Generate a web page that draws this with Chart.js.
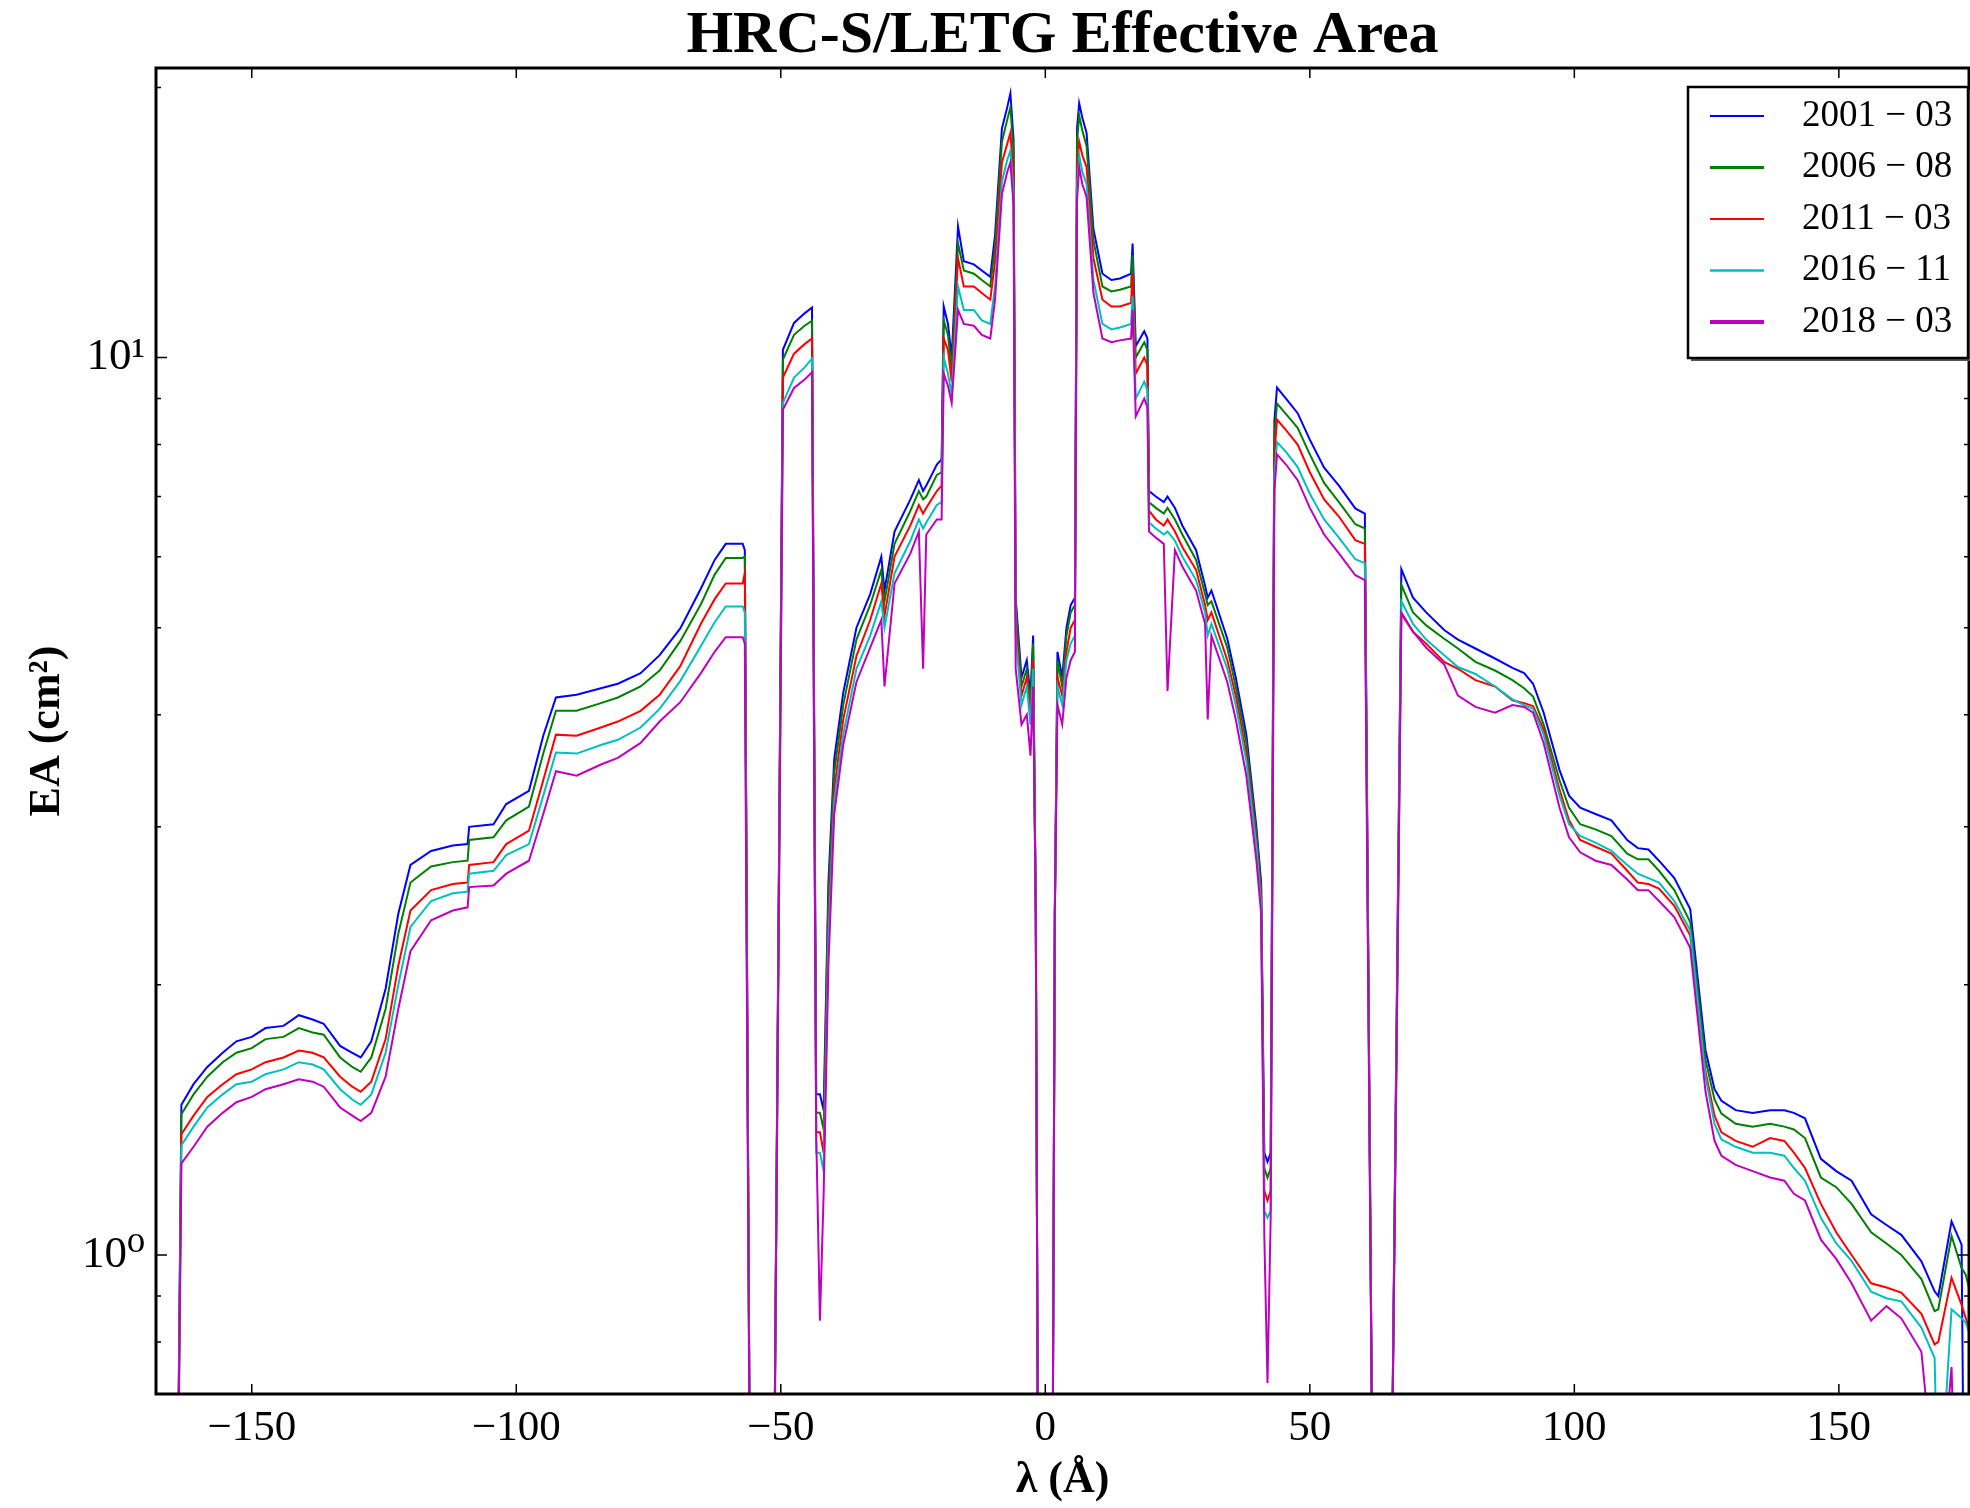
<!DOCTYPE html>
<html>
<head>
<meta charset="utf-8">
<title>HRC-S/LETG Effective Area</title>
<script src="https://cdn.jsdelivr.net/npm/chart.js@4.4.1/dist/chart.umd.min.js"></script>
<style>
  html, body { margin: 0; padding: 0; background: #fff; }
  canvas { display: block; }
</style>
</head>
<body>
<canvas id="eaChart" width="1970" height="1508"></canvas>
<script>
// wavelength grid (Angstrom), negative = minus orders
var wavelength = [
  -168.1, -164.4, -163.3, -161.0, -158.4, -155.5, -152.9, -150.0, -147.4, -144.0,
  -141.1, -138.5, -136.4, -133.3, -131.0, -129.4, -127.4, -124.7, -122.3, -120.0,
  -116.1, -112.0, -109.2, -108.9, -104.3, -101.9, -97.6, -94.9, -92.5, -88.6,
  -84.0, -80.8, -76.5, -72.9, -69.0, -65.1, -62.5, -60.4, -57.2, -56.8,
  -55.6, -51.6, -49.6, -47.5, -45.5, -44.1, -43.3, -42.6, -41.9, -41.0,
  -39.9, -38.2, -35.7, -33.1, -31.0, -30.4, -28.5, -25.5, -23.9, -23.1,
  -22.5, -20.5, -19.6, -19.2, -18.4, -17.7, -16.5, -15.4, -13.5, -12.0,
  -10.4, -9.5, -8.2, -7.2, -6.6, -6.0, -5.6, -4.5, -3.5, -2.8,
  -2.3, -1.8, -1.2, 1.2, 1.8, 2.3, 3.2, 4.0, 4.8, 5.6,
  6.0, 6.4, 7.0, 7.8, 9.1, 10.8, 12.5, 14.1, 16.2, 16.5,
  17.1, 18.7, 19.3, 19.6, 20.9, 22.4, 23.1, 24.5, 25.9, 28.5,
  30.2, 30.7, 31.4, 34.4, 36.0, 38.0, 39.9, 40.8, 41.4, 42.0,
  42.6, 43.3, 43.8, 45.5, 47.7, 50.0, 52.7, 55.5, 58.6, 60.4,
  62.2, 65.0, 67.3, 69.5, 72.0, 75.4, 78.0, 81.3, 85.0, 88.3,
  90.5, 92.2, 94.2, 97.2, 99.0, 101.1, 104.0, 107.0, 110.0, 112.0,
  114.0, 116.0, 118.9, 121.9, 124.8, 126.5, 127.8, 130.5, 133.7, 137.0,
  139.7, 141.5, 143.6, 146.6, 149.5, 152.4, 156.1, 159.0, 161.8, 165.6,
  168.1, 168.8, 171.3, 173.2, 174.0, 174.6
];

// effective area (cm^2) per epoch
var ea2001_03 = [
  0.3, 0.3, 1.47, 1.55, 1.62, 1.68, 1.73, 1.75, 1.79, 1.80,
  1.85, 1.83, 1.81, 1.71, 1.68, 1.66, 1.73, 1.98, 2.40, 2.72,
  2.82, 2.86, 2.87, 3.00, 3.02, 3.18, 3.29, 3.79, 4.18, 4.21,
  4.28, 4.33, 4.45, 4.66, 4.99, 5.53, 5.95, 6.20, 6.20, 6.10,
  0.3, 0.3, 10.20, 10.93, 11.20, 11.37, 1.51, 1.51, 1.45, 2.60,
  3.57, 4.23, 5.00, 5.45, 6.00, 5.50, 6.40, 6.95, 7.30, 7.10,
  7.20, 7.60, 7.70, 11.40, 10.90, 10.00, 14.00, 12.80, 12.70, 12.50,
  12.30, 13.70, 18.00, 19.00, 19.70, 17.50, 5.40, 4.40, 4.60, 4.20,
  4.90, 2.40, 0.3, 0.3, 2.40, 4.70, 4.40, 5.00, 5.30, 5.40,
  18.00, 19.20, 18.50, 17.80, 13.90, 12.40, 12.20, 12.25, 12.40, 13.40,
  10.30, 10.70, 10.50, 7.10, 7.00, 6.90, 7.00, 6.80, 6.50, 6.10,
  5.57, 5.40, 5.50, 4.86, 4.40, 3.80, 3.00, 2.60, 1.30, 1.27,
  1.30, 8.50, 9.26, 9.00, 8.67, 8.10, 7.54, 7.20, 6.79, 6.70,
  0.3, 0.3, 5.81, 5.40, 5.20, 4.97, 4.85, 4.74, 4.62, 4.51,
  4.45, 4.33, 4.02, 3.47, 3.25, 3.15, 3.10, 3.05, 2.90, 2.84,
  2.83, 2.75, 2.63, 2.43, 1.69, 1.53, 1.485, 1.45, 1.44, 1.45,
  1.45, 1.44, 1.42, 1.28, 1.24, 1.21, 1.11, 1.08, 1.053, 0.984,
  0.911, 0.90, 1.09, 1.027, 0.3, 0.3
];
var ea2006_08 = [
  0.3, 0.3, 1.435, 1.51, 1.58, 1.64, 1.68, 1.70, 1.74, 1.75,
  1.79, 1.77, 1.76, 1.66, 1.62, 1.60, 1.66, 1.88, 2.28, 2.60,
  2.71, 2.74, 2.75, 2.90, 2.92, 3.05, 3.16, 3.62, 4.04, 4.04,
  4.12, 4.18, 4.30, 4.48, 4.83, 5.31, 5.73, 5.98, 5.98, 6.00,
  0.3, 0.3, 9.95, 10.60, 10.85, 10.99, 1.44, 1.44, 1.38, 2.50,
  3.45, 4.10, 4.85, 5.30, 5.80, 5.35, 6.20, 6.75, 7.10, 6.95,
  7.00, 7.40, 7.45, 11.00, 10.60, 9.70, 13.40, 12.50, 12.40, 12.20,
  12.00, 13.30, 17.40, 18.40, 19.00, 17.00, 5.30, 4.30, 4.50, 4.10,
  4.80, 2.40, 0.3, 0.3, 2.40, 4.60, 4.30, 4.90, 5.20, 5.30,
  17.40, 18.60, 17.90, 17.20, 13.50, 12.00, 11.85, 11.90, 12.00, 13.00,
  10.00, 10.40, 10.20, 6.90, 6.80, 6.70, 6.80, 6.60, 6.35, 5.95,
  5.45, 5.30, 5.35, 4.75, 4.30, 3.72, 2.95, 2.55, 1.25, 1.22,
  1.25, 8.20, 8.89, 8.65, 8.35, 7.80, 7.25, 6.90, 6.52, 6.45,
  0.3, 0.3, 5.58, 5.20, 5.03, 4.86, 4.74, 4.58, 4.48, 4.37,
  4.28, 4.19, 3.90, 3.38, 3.15, 3.02, 2.98, 2.93, 2.80, 2.76,
  2.76, 2.68, 2.55, 2.35, 1.65, 1.49, 1.437, 1.40, 1.39, 1.40,
  1.39, 1.38, 1.35, 1.22, 1.19, 1.14, 1.06, 1.03, 1.00, 0.94,
  0.866, 0.87, 1.05, 0.967, 0.95, 0.92
];
var ea2011_03 = [
  0.3, 0.3, 1.363, 1.43, 1.50, 1.55, 1.59, 1.61, 1.64, 1.66,
  1.69, 1.68, 1.66, 1.58, 1.54, 1.52, 1.56, 1.74, 2.10, 2.42,
  2.55, 2.59, 2.60, 2.72, 2.74, 2.87, 2.97, 3.38, 3.80, 3.79,
  3.87, 3.93, 4.04, 4.21, 4.53, 5.05, 5.38, 5.60, 5.60, 5.75,
  0.3, 0.3, 9.50, 10.10, 10.35, 10.50, 1.37, 1.37, 1.30, 2.35,
  3.30, 3.95, 4.65, 5.10, 5.60, 5.15, 6.00, 6.50, 6.85, 6.70,
  6.80, 7.10, 7.20, 10.50, 10.20, 9.40, 12.90, 12.00, 12.00, 11.80,
  11.60, 12.80, 16.50, 17.30, 17.80, 16.00, 5.10, 4.20, 4.40, 4.00,
  4.60, 2.40, 0.3, 0.3, 2.40, 4.40, 4.20, 4.70, 5.00, 5.10,
  16.20, 17.40, 16.80, 16.30, 12.90, 11.60, 11.40, 11.40, 11.50, 12.40,
  9.60, 10.00, 9.80, 6.75, 6.60, 6.50, 6.60, 6.40, 6.15, 5.80,
  5.30, 5.10, 5.20, 4.60, 4.20, 3.62, 2.90, 2.50, 1.18, 1.15,
  1.18, 7.80, 8.53, 8.30, 8.00, 7.45, 6.95, 6.65, 6.26, 6.20,
  0.3, 0.3, 5.18, 4.95, 4.80, 4.58, 4.50, 4.37, 4.30, 4.15,
  4.12, 4.09, 3.85, 3.30, 3.05, 2.90, 2.85, 2.80, 2.68, 2.60,
  2.59, 2.56, 2.45, 2.27, 1.60, 1.43, 1.37, 1.34, 1.32, 1.35,
  1.34, 1.30, 1.25, 1.14, 1.06, 1.00, 0.93, 0.92, 0.908, 0.86,
  0.795, 0.80, 0.943, 0.88, 0.85, 0.83
];
var ea2016_11 = [
  0.3, 0.3, 1.325, 1.39, 1.46, 1.51, 1.55, 1.56, 1.59, 1.61,
  1.64, 1.63, 1.61, 1.53, 1.49, 1.47, 1.51, 1.68, 2.00, 2.32,
  2.48, 2.53, 2.54, 2.66, 2.68, 2.79, 2.87, 3.25, 3.63, 3.62,
  3.70, 3.75, 3.87, 4.06, 4.36, 4.77, 5.07, 5.28, 5.28, 5.20,
  0.3, 0.3, 8.90, 9.50, 9.75, 9.97, 1.30, 1.30, 1.24, 2.25,
  3.20, 3.80, 4.50, 4.90, 5.35, 5.00, 5.75, 6.25, 6.60, 6.45,
  6.55, 6.85, 6.90, 10.00, 9.60, 9.10, 12.00, 11.30, 11.30, 11.00,
  10.90, 12.00, 15.70, 16.60, 17.00, 15.30, 4.90, 4.10, 4.30, 3.90,
  4.50, 2.40, 0.3, 0.3, 2.40, 4.30, 4.10, 4.60, 4.80, 4.90,
  15.50, 16.80, 16.10, 15.60, 12.20, 10.90, 10.75, 10.80, 10.90, 11.70,
  9.00, 9.40, 9.20, 6.55, 6.45, 6.35, 6.40, 6.25, 6.00, 5.65,
  5.20, 4.90, 5.05, 4.50, 4.10, 3.55, 2.85, 2.45, 1.12, 1.10,
  1.12, 7.40, 8.05, 7.85, 7.55, 7.05, 6.60, 6.30, 5.96, 5.90,
  0.3, 0.3, 5.35, 5.05, 4.85, 4.66, 4.52, 4.44, 4.30, 4.16,
  4.10, 4.06, 3.80, 3.25, 3.02, 2.93, 2.88, 2.82, 2.72, 2.66,
  2.63, 2.60, 2.48, 2.30, 1.58, 1.40, 1.345, 1.32, 1.30, 1.30,
  1.29, 1.25, 1.21, 1.10, 1.03, 0.985, 0.91, 0.895, 0.888, 0.83,
  0.768, 0.50, 0.87, 0.85, 0.84, 0.82
];
var ea2018_03 = [
  0.3, 0.3, 1.265, 1.32, 1.39, 1.44, 1.48, 1.50, 1.53, 1.55,
  1.57, 1.56, 1.54, 1.46, 1.43, 1.41, 1.44, 1.58, 1.88, 2.18,
  2.36, 2.42, 2.44, 2.57, 2.58, 2.66, 2.75, 3.10, 3.46, 3.42,
  3.52, 3.58, 3.72, 3.93, 4.13, 4.45, 4.70, 4.88, 4.88, 4.80,
  0.3, 0.3, 8.75, 9.25, 9.45, 9.63, 1.36, 0.845, 1.17, 2.10,
  3.10, 3.70, 4.35, 4.75, 5.10, 4.30, 5.60, 6.05, 6.40, 4.50,
  6.35, 6.60, 6.60, 9.60, 9.30, 8.90, 11.30, 10.90, 10.85, 10.60,
  10.50, 11.60, 15.20, 16.10, 16.50, 14.80, 4.50, 3.90, 4.00, 3.60,
  4.30, 2.40, 0.3, 0.3, 2.40, 4.10, 3.90, 4.40, 4.60, 4.70,
  15.00, 16.30, 15.60, 15.10, 11.80, 10.50, 10.40, 10.45, 10.50, 11.30,
  8.60, 9.00, 8.80, 6.40, 6.30, 6.20, 4.25, 6.10, 5.85, 5.50,
  5.05, 3.95, 4.90, 4.35, 3.95, 3.42, 2.75, 2.40, 1.05, 0.72,
  1.10, 7.10, 7.80, 7.60, 7.30, 6.80, 6.35, 6.05, 5.72, 5.65,
  0.3, 0.3, 5.20, 4.95, 4.75, 4.55, 4.20, 4.08, 4.02, 4.10,
  4.08, 4.02, 3.72, 3.15, 2.92, 2.81, 2.75, 2.72, 2.62, 2.55,
  2.55, 2.48, 2.38, 2.20, 1.52, 1.34, 1.29, 1.26, 1.24, 1.22,
  1.21, 1.17, 1.15, 1.04, 0.99, 0.93, 0.845, 0.877, 0.85, 0.78,
  0.55, 0.50, 0.75, 0.3, 0.3, 0.3
];

var seriesLabels = ['2001 \u2212 03', '2006 \u2212 08', '2011 \u2212 03', '2016 \u2212 11', '2018 \u2212 03'];

var xTickValues = [-150, -100, -50, 0, 50, 100, 150];
var xTickLabels = ['\u2212150', '\u2212100', '\u221250', '0', '50', '100', '150'];
var yTickValues = [1, 10];
var yTickLabels = ['10\u2070', '10\u00b9'];
var yMinorTicks = [0.8, 0.9, 2, 3, 4, 5, 6, 7, 8, 9, 20];

var lineColor = ['#0000ff', '#008000', '#ff0000', '#00bfbf', '#bf00bf'];
var legendLineWidth = [2, 3, 2, 2.5, 4];
var serif = '"Liberation Serif", "DejaVu Serif", serif';

// inward ticks on all four sides + black frame (matplotlib classic look)
var frameTicks = {
  id: 'frameTicks',
  afterDatasetsDraw: function(chart) {
    var ctx = chart.ctx, a = chart.chartArea;
    var xs = chart.scales.x, ys = chart.scales.y;
    ctx.save();
    ctx.strokeStyle = '#000';
    ctx.lineWidth = 1.5;
    ctx.beginPath();
    xTickValues.forEach(function(v) {
      var px = xs.getPixelForValue(v);
      ctx.moveTo(px, a.bottom); ctx.lineTo(px, a.bottom - 10);
      ctx.moveTo(px, a.top); ctx.lineTo(px, a.top + 10);
    });
    yTickValues.forEach(function(v) {
      var py = ys.getPixelForValue(v);
      ctx.moveTo(a.left, py); ctx.lineTo(a.left + 11, py);
      ctx.moveTo(a.right, py); ctx.lineTo(a.right - 11, py);
    });
    yMinorTicks.forEach(function(v) {
      var py = ys.getPixelForValue(v);
      ctx.moveTo(a.left, py); ctx.lineTo(a.left + 5, py);
      ctx.moveTo(a.right, py); ctx.lineTo(a.right - 5, py);
    });
    ctx.stroke();
    ctx.lineWidth = 3;
    ctx.strokeRect(a.left, a.top, a.right - a.left, a.bottom - a.top);
    ctx.restore();
  }
};

// legend box in the upper right corner of the axes
var legendBox = {
  id: 'legendBox',
  afterDraw: function(chart) {
    var ctx = chart.ctx, a = chart.chartArea;
    var w = 280, h = 271;
    var bx = a.right - w - 1, by = a.top + 19;
    ctx.save();
    // soft shadow like matplotlib's legend
    ctx.fillStyle = '#555';
    ctx.fillRect(bx + 3, by + 3, w, h);
    ctx.fillStyle = '#fff';
    ctx.fillRect(bx, by, w, h);
    ctx.strokeStyle = '#000';
    ctx.lineWidth = 2.5;
    ctx.strokeRect(bx, by, w, h);
    ctx.font = '37px ' + serif;
    ctx.textBaseline = 'middle';
    ctx.textAlign = 'left';
    chart.data.datasets.forEach(function(ds, i) {
      var yy = by + 29 + i * 51.5;
      ctx.strokeStyle = ds.borderColor;
      ctx.lineWidth = legendLineWidth[i];
      ctx.beginPath();
      ctx.moveTo(bx + 22, yy);
      ctx.lineTo(bx + 76, yy);
      ctx.stroke();
      ctx.fillStyle = '#000';
      ctx.fillText(ds.label, bx + 114, yy);
    });
    ctx.restore();
  }
};

var seriesValues = [ea2001_03, ea2006_08, ea2011_03, ea2016_11, ea2018_03];

window.onload = function() {
  new Chart(document.getElementById('eaChart'), {
    type: 'line',
    data: {
      datasets: seriesValues.map(function(vals, i) {
        return {
          label: seriesLabels[i],
          data: wavelength.map(function(w, j) { return {x: w, y: vals[j]}; }),
          borderColor: lineColor[i],
          backgroundColor: lineColor[i],
          borderWidth: 2,
          pointRadius: 0,
          fill: false,
          tension: 0,
          order: 5 - i // later epochs drawn on top
        };
      })
    },
    options: {
      responsive: false,
      animation: false,
      devicePixelRatio: 1,
      events: [],
      layout: {padding: {left: 0, right: 1, top: 0, bottom: 0}},
      plugins: {
        legend: {display: false},
        tooltip: {enabled: false},
        title: {
          display: true,
          text: 'HRC-S/LETG Effective Area',
          fullSize: false,
          color: '#000',
          font: {family: serif, size: 60, weight: 'bold', lineHeight: 1},
          padding: {top: 6, bottom: 2}
        }
      },
      scales: {
        x: {
          type: 'linear',
          min: -168.1,
          max: 174.6,
          afterBuildTicks: function(s) {
            s.ticks = xTickValues.map(function(v) { return {value: v}; });
          },
          afterFit: function(s) { s.height = 114; },
          grid: {display: false, drawTicks: false},
          border: {display: false},
          ticks: {
            autoSkip: false,
            maxRotation: 0,
            padding: 9,
            color: '#000',
            font: {family: serif, size: 43},
            callback: function(v) {
              var k = xTickValues.indexOf(v);
              return k >= 0 ? xTickLabels[k] : '';
            }
          },
          title: {
            display: true,
            text: '\u03bb (\u00c5)',
            color: '#000',
            font: {family: serif, size: 44, weight: 'bold'},
            padding: {top: 0, bottom: 1}
          }
        },
        y: {
          type: 'logarithmic',
          min: 0.7042,
          max: 21.02,
          afterBuildTicks: function(s) {
            s.ticks = yMinorTicks.concat(yTickValues)
              .sort(function(p, q) { return p - q; })
              .map(function(v) { return {value: v}; });
          },
          afterFit: function(s) { s.width = 156; },
          grid: {display: false, drawTicks: false},
          border: {display: false},
          ticks: {
            autoSkip: false,
            padding: 11,
            color: '#000',
            font: {family: serif, size: 45},
            callback: function(v) {
              var k = yTickValues.indexOf(v);
              return k >= 0 ? yTickLabels[k] : '';
            }
          },
          title: {
            display: true,
            text: 'EA (cm\u00b2)',
            color: '#000',
            font: {family: serif, size: 44, weight: 'bold'},
            padding: {top: 21, bottom: 0}
          }
        }
      }
    },
    plugins: [frameTicks, legendBox]
  });
};
</script>
</body>
</html>
